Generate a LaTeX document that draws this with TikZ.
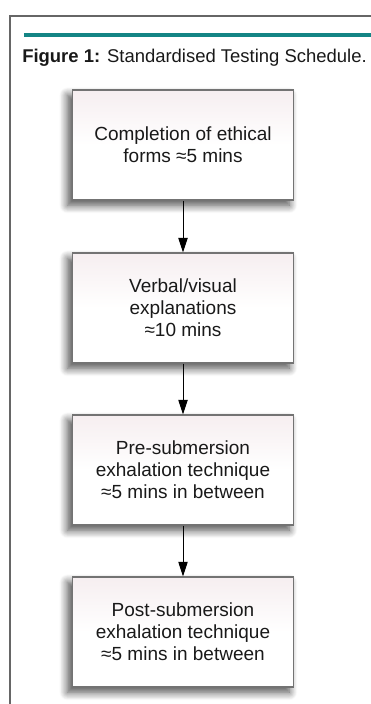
\documentclass[tikz,border=0pt]{standalone}
\usepackage{fontspec}
\setmainfont{Liberation Sans}
\usetikzlibrary{arrows.meta,shadows.blur}

\definecolor{figteal}{RGB}{20,133,133}
\definecolor{boxtop}{RGB}{246,238,240}

\tikzset{
    stepbox/.style={draw=black!55,line width=0.8pt,
        top color=boxtop,bottom color=white,middle color=white,
        minimum width=5.87cm,minimum height=2.91cm,
        align=center,inner sep=2pt,
        blur shadow={shadow xshift=-3.5pt,shadow yshift=-4pt,
            shadow blur radius=6pt,shadow blur steps=10,shadow opacity=70}},
}

\begin{document}
\begin{tikzpicture}[font=\fontsize{14.3}{16.5}\selectfont,>={Triangle[length=11pt,width=7pt]},x=1cm,y=1cm]
    \useasboundingbox (0,0) rectangle (9.816,18.627);

    % cadre et filet de la légende
    \draw[black!60,line width=0.8pt] (0.265,0) -- (0.265,18.204) -- (9.816,18.204);
    \draw[figteal,line width=3pt] (0.635,17.70) -- (9.816,17.70);
    \node[anchor=base west,inner sep=0pt,text=black!90,font=\fontsize{13.9}{16.5}\selectfont]
        (caption) at (0.582,16.96)
        {\textbf{Figure 1:} Standardised Testing Schedule.};

    \foreach \name/\y/\txt in {
        ethics/14.790/{Completion of ethical\\forms ≈5 mins},
        explain/10.477/{Verbal/visual\\explanations\\≈10 mins},
        pre/6.191/{Pre-submersion\\exhalation technique\\≈5 mins in between},
        post/1.905/{Post-submersion\\exhalation technique\\≈5 mins in between}}{
        \node[stepbox,text=black!90] (\name) at (4.842,\y) {\txt};
    }

    \foreach \a/\b in {ethics/explain,explain/pre,pre/post}{
        \draw[->,line width=0.75pt] (\a) -- (\b);
    }
\end{tikzpicture}
\end{document}
